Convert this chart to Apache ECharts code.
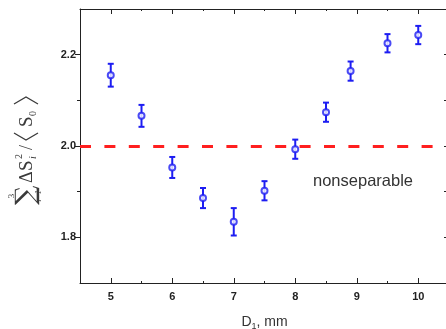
<!DOCTYPE html>
<html>
<head>
<meta charset="utf-8">
<script src="https://cdn.jsdelivr.net/npm/echarts@6/dist/echarts.min.js"></script>
<style>html,body{margin:0;padding:0;background:#fff}#c{width:446px;height:329px}</style>
</head>
<body>
<div id="c"></div>
<script>
// ---- data ----
var xValues = [5, 5.5, 6, 6.5, 7, 7.5, 8, 8.5, 8.9, 9.5, 10];
var yValues = [2.155, 2.066, 1.953, 1.886, 1.834, 1.902, 1.993, 2.074, 2.164, 2.225, 2.243];
var yErrors = [0.025, 0.024, 0.023, 0.022, 0.030, 0.021, 0.021, 0.021, 0.021, 0.020, 0.020];
var thresholdValue = 2.0;
var xMajorTicks = [5, 6, 7, 8, 9, 10];
var xMinorTicks = [5.5, 6.5, 7.5, 8.5, 9.5];
var yMajorTicks = [1.8, 2.0, 2.2];
var yMinorTicks = [1.9, 2.1];
var annotationText = 'nonseparable';

var points = xValues.map(function (x, i) { return [x, yValues[i], yErrors[i]]; });

var axisColor = '#222';
var blue = '#1d1df2';
var titleColor = '#3a3a3a';
var serif = 'Liberation Serif, DejaVu Serif, serif';
var labelFont = { fontFamily: 'Liberation Sans, Arial, sans-serif', fontSize: 11, fontWeight: 'bold', color: '#222' };

function hiddenLine() { return { show: false }; }
function t(x, y, text, size, extra) {
  var st = { text: text, fontFamily: serif, fontSize: size, fill: titleColor, align: 'left', verticalAlign: 'middle' };
  if (extra) { for (var k in extra) st[k] = extra[k]; }
  return { type: 'text', x: x, y: y, style: st };
}

var chart = echarts.init(document.getElementById('c'), null, { renderer: 'canvas' });
var option = {
  animation: false,
  backgroundColor: '#fff',
  grid: { left: 80, right: -3, top: 9, bottom: 46, containLabel: false, outerBoundsMode: 'none' },
  xAxis: [
    { // bottom, major ticks + labels
      type: 'value', position: 'bottom', min: 4.5, max: 10.5,
      axisLine: { show: true, lineStyle: { color: axisColor, width: 1 } },
      axisTick: { show: true, inside: true, length: 5, customValues: xMajorTicks, lineStyle: { color: axisColor } },
      axisLabel: Object.assign({ show: true, customValues: xMajorTicks, margin: 8 }, labelFont),
      splitLine: { show: false },
      name: '{a|D}{s|1}{a|, mm}', nameLocation: 'middle', nameGap: 30,
      nameTextStyle: {
        rich: {
          a: { fontFamily: 'Liberation Sans, Arial, sans-serif', fontSize: 14, color: '#333', lineHeight: 18 },
          s: { fontFamily: 'Liberation Sans, Arial, sans-serif', fontSize: 9, color: '#333', lineHeight: 11, verticalAlign: 'bottom' }
        }
      }
    },
    { // bottom, minor ticks
      type: 'value', position: 'bottom', min: 4.5, max: 10.5,
      axisLine: hiddenLine(),
      axisTick: { show: true, inside: true, length: 2, customValues: xMinorTicks, lineStyle: { color: axisColor } },
      axisLabel: { show: false }, splitLine: { show: false }
    },
    { // top frame, major ticks
      type: 'value', position: 'top', min: 4.5, max: 10.5,
      axisLine: { show: true, lineStyle: { color: axisColor, width: 1 } },
      axisTick: { show: true, inside: true, length: 5, customValues: xMajorTicks, lineStyle: { color: axisColor } },
      axisLabel: { show: false }, splitLine: { show: false }
    },
    { // top frame, minor ticks
      type: 'value', position: 'top', min: 4.5, max: 10.5,
      axisLine: hiddenLine(),
      axisTick: { show: true, inside: true, length: 2, customValues: xMinorTicks, lineStyle: { color: axisColor } },
      axisLabel: { show: false }, splitLine: { show: false }
    }
  ],
  yAxis: [
    { // left, major ticks + labels
      type: 'value', position: 'left', min: 1.7, max: 2.3,
      axisLine: { show: true, lineStyle: { color: axisColor, width: 1 } },
      axisTick: { show: true, inside: false, length: 5, customValues: yMajorTicks, lineStyle: { color: axisColor } },
      axisLabel: Object.assign({ show: true, customValues: yMajorTicks, margin: 4,
        formatter: function (v) { return v.toFixed(1); } }, labelFont),
      splitLine: { show: false }
    },
    { // left, minor ticks
      type: 'value', position: 'left', min: 1.7, max: 2.3,
      axisLine: hiddenLine(),
      axisTick: { show: true, inside: false, length: 3, customValues: yMinorTicks, lineStyle: { color: axisColor } },
      axisLabel: { show: false }, splitLine: { show: false }
    },
    { // right frame
      type: 'value', position: 'right', min: 1.7, max: 2.3,
      axisLine: { show: true, lineStyle: { color: axisColor, width: 1 } },
      axisTick: { show: true, inside: true, length: 5, customValues: yMajorTicks.concat(yMinorTicks), lineStyle: { color: axisColor } },
      axisLabel: { show: false }, splitLine: { show: false }
    }
  ],
  series: [
    {
      type: 'custom',
      xAxisIndex: 0, yAxisIndex: 0,
      data: points,
      z: 2,
      renderItem: function (params, api) {
        var x = api.value(0), y = api.value(1), e = api.value(2);
        var top = api.coord([x, y + e]);
        var bot = api.coord([x, y - e]);
        var hw = 3;
        var st = { stroke: blue, lineWidth: 2 };
        return {
          type: 'group',
          children: [
            { type: 'line', shape: { x1: top[0], y1: top[1], x2: bot[0], y2: bot[1] }, style: st },
            { type: 'line', shape: { x1: top[0] - hw, y1: top[1], x2: top[0] + hw, y2: top[1] }, style: st },
            { type: 'line', shape: { x1: bot[0] - hw, y1: bot[1], x2: bot[0] + hw, y2: bot[1] }, style: st }
          ]
        };
      }
    },
    {
      type: 'scatter',
      xAxisIndex: 0, yAxisIndex: 0,
      data: points.map(function (p) { return [p[0], p[1]]; }),
      symbol: 'emptyCircle',
      symbolSize: 6,
      z: 3,
      itemStyle: { color: blue, borderColor: blue, borderWidth: 1.5 },
      markLine: {
        silent: true,
        symbol: ['none', 'none'],
        label: { show: false },
        lineStyle: { color: '#ff1f1f', width: 3, type: [11, 13.4] },
        data: [{ yAxis: thresholdValue }]
      }
    }
  ],
  graphic: [
    {
      type: 'text', left: 313, top: 173, z: 10,
      style: { text: annotationText, fontFamily: 'Liberation Sans, Arial, sans-serif', fontSize: 16.5, fill: '#333' }
    },
    {
      type: 'group', x: 27, y: 205, rotation: Math.PI / 2, z: 10,
      children: [
        t(0, 0, '\u2211', 27, { fontFamily: 'DejaVu Serif, Liberation Serif, serif' }),
        t(9, -15, '3', 9, { align: 'center' }),
        t(9, 12, 'i=1', 8, { align: 'center', fontStyle: 'italic' }),
        t(22, 0, '\u0394', 18),
        t(34, 0, 'S', 19),
        t(46, -8, '2', 10),
        t(46, 6, 'i', 10, { fontStyle: 'italic' }),
        t(55, 0, '/', 18),
        { type: 'polyline', shape: { points: [[72, -13], [65, -1], [72, 11]] }, style: { stroke: titleColor, lineWidth: 1.3, fill: null } },
        t(78, 0, 'S', 19),
        t(89, 6, '0', 10),
        { type: 'polyline', shape: { points: [[101, -13], [108, -1], [101, 11]] }, style: { stroke: titleColor, lineWidth: 1.3, fill: null } }
      ]
    }
  ]
};
chart.setOption(option);
</script>
</body>
</html>
